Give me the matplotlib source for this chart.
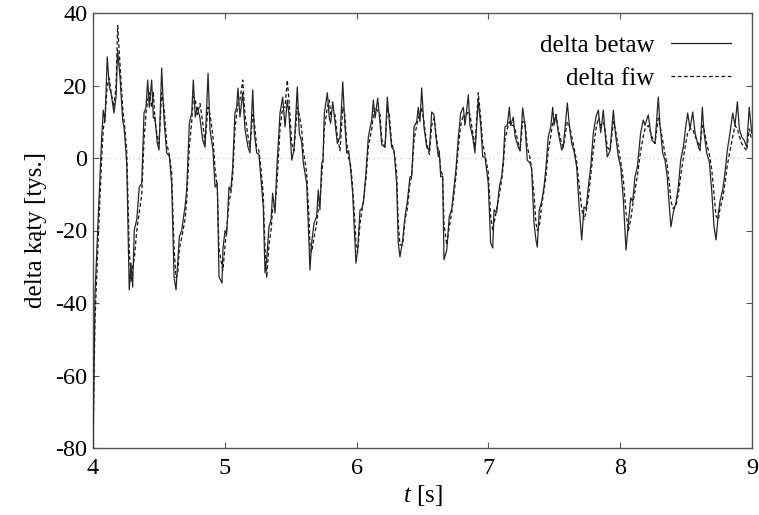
import matplotlib
matplotlib.use("Agg")
import matplotlib.pyplot as plt

plt.rcParams['font.family'] = ['Liberation Serif', 'DejaVu Serif']
plt.rcParams['mathtext.fontset'] = 'custom'
plt.rcParams['mathtext.rm'] = 'Liberation Serif'
plt.rcParams['mathtext.it'] = 'Liberation Serif:italic'
plt.rcParams['axes.unicode_minus'] = False

# time [s]
t = [
    4.000, 4.015, 4.040, 4.066, 4.078, 4.091, 4.108, 4.124, 4.137, 4.159,
    4.175, 4.187, 4.205, 4.225, 4.237, 4.256, 4.275, 4.288, 4.301, 4.313,
    4.332, 4.351, 4.370, 4.387, 4.402, 4.415, 4.427, 4.445, 4.458, 4.470,
    4.488, 4.501, 4.521, 4.539, 4.559, 4.579, 4.597, 4.615, 4.630, 4.643,
    4.655, 4.673, 4.698, 4.711, 4.731, 4.749, 4.761, 4.776, 4.791, 4.812,
    4.832, 4.850, 4.873, 4.888, 4.910, 4.926, 4.943, 4.956, 4.979, 4.986,
    5.002, 5.014, 5.032, 5.045, 5.060, 5.077, 5.090, 5.100, 5.115, 5.136,
    5.153, 5.176, 5.191, 5.212, 5.224, 5.242, 5.259, 5.275, 5.292, 5.305,
    5.318, 5.335, 5.351, 5.363, 5.381, 5.394, 5.419, 5.439, 5.457, 5.474,
    5.487, 5.508, 5.525, 5.550, 5.565, 5.583, 5.596, 5.621, 5.641, 5.646,
    5.659, 5.677, 5.697, 5.709, 5.722, 5.735, 5.745, 5.755, 5.778, 5.793,
    5.803, 5.819, 5.836, 5.854, 5.874, 5.895, 5.910, 5.925, 5.940, 5.955,
    5.970, 5.988, 5.995, 6.008, 6.026, 6.039, 6.051, 6.071, 6.089, 6.115,
    6.127, 6.140, 6.160, 6.178, 6.191, 6.216, 6.233, 6.248, 6.266, 6.284,
    6.304, 6.316, 6.329, 6.350, 6.367, 6.385, 6.405, 6.418, 6.436, 6.456,
    6.468, 6.481, 6.494, 6.511, 6.532, 6.552, 6.570, 6.587, 6.602, 6.620,
    6.627, 6.638, 6.653, 6.663, 6.684, 6.703, 6.722, 6.739, 6.754, 6.772,
    6.790, 6.810, 6.822, 6.848, 6.860, 6.881, 6.898, 6.923, 6.942, 6.957,
    6.974, 6.999, 7.017, 7.033, 7.043, 7.063, 7.083, 7.101, 7.113, 7.126,
    7.143, 7.159, 7.169, 7.189, 7.202, 7.227, 7.240, 7.260, 7.278, 7.295,
    7.316, 7.328, 7.346, 7.361, 7.371, 7.386, 7.404, 7.422, 7.437, 7.454,
    7.473, 7.488, 7.498, 7.513, 7.530, 7.556, 7.568, 7.599, 7.614, 7.632,
    7.649, 7.670, 7.690, 7.708, 7.725, 7.741, 7.758, 7.776, 7.796, 7.816,
    7.834, 7.852, 7.872, 7.885, 7.902, 7.923, 7.948, 7.963, 7.986, 8.004,
    8.024, 8.044, 8.062, 8.080, 8.095, 8.112, 8.130, 8.155, 8.175, 8.188,
    8.213, 8.239, 8.264, 8.289, 8.302, 8.322, 8.340, 8.357, 8.373, 8.385,
    8.403, 8.423, 8.441, 8.459, 8.479, 8.497, 8.512, 8.530, 8.550, 8.568,
    8.593, 8.606, 8.623, 8.636, 8.656, 8.676, 8.694, 8.712, 8.727, 8.745,
    8.757, 8.778, 8.795, 8.813, 8.833, 8.854, 8.871, 8.889, 8.904, 8.922,
    8.939, 8.960, 8.979, 8.998,
]

# delta betaw [tys.]
delta_betaw = [
    -80, -38, -16, 5.8, 13.2, 10, 27.9, 19.6, 18, 12.4,
    17, 29.8, 22.3, 10.5, 8, -1.4, -36.4, -29, -35.6, -19.9,
    -17, -8, -7, 12.4, 14, 21.5, 14, 21.5, 11, 11.3,
    4, 2.2, 24.8, 10.5, 1.4, 0.5, -7, -32.8, -36.4, -29,
    -21.8, -20, -13.5, -8.8, 9.6, 12.4, 21.5, 11.3, 14, 11,
    5, 3, 23.4, 7.7, 2.2, -8, -7, -32.8, -34.5, -25,
    -20, -21, -8, -9, -2.5, 12.4, 14, 19.3, 11.3, 18,
    8, 3, 1.4, 18.8, 6.9, 1.4, 1, -6, -13.5, -31.7,
    -28, -19, -17, -9.7, -15.2, -3.3, 12.4, 16.8, 8.6, 16,
    12, -0.6, 2.2, 19.6, 6.9, 4.5, -1.4, -7, -25.4, -30.9,
    -23.4, -18, -16.2, -8.8, -14.3, -1.4, -1, 12.4, 18, 11,
    9.6, 15.5, 10, 4, 5.8, 21, 10, 1.4, 2, -3.3,
    -9.7, -23.4, -29, -25.4, -14.3, -14, -12.4, -4.1, 5.8, 10.5,
    16, 11, 16.5, 9.6, 3.6, 3, 16.8, 10, 3, 2,
    -7, -23.4, -27.3, -22.6, -16.2, -12, -5.2, -5, 8.6, 10,
    14, 10, 19.3, 8.6, 3, 2, 12.7, 12, 5.8, 0.3,
    2, -5.2, -5, -28.1, -25.4, -16.2, -14, -8, -3, 5.8,
    12.4, 14, 9, 17.4, 9, 5.8, 1.4, 16, 9, 0.3,
    0.3, -7, -23.4, -24.8, -14.3, -15, -8, -5, -0.6, 8.6,
    9, 14, 9, 11.3, 6, 3, 2, 13.8, 9, -0.6,
    -1.4, -3, -18, -22.6, -24.6, -14.3, -12, -8, -2.5, 5.8,
    8.6, 14, 9, 11.9, 7, 2.2, 3, 15.2, 9, 4,
    2, -2.5, -14.3, -22.6, -13.5, -14, -8, -2.5, 6.9, 11.3,
    13.2, 7, 13.2, 7, 0.3, 2, 13.2, 7, 0.3, -2.5,
    -11.6, -25.4, -18, -11, -12, -5.2, -2.5, 6.9, 10.5, 9,
    11.9, 5, 4, 16.8, 9, 1.4, -0.6, -5.2, -13.5, -19,
    -15, -12.4, -8, -0.6, 3, 8.6, 12.4, 8, 12.7, 7,
    3, 2, 14, 7, 1.4, -1, -8.8, -19, -22.6, -15.2,
    -12, -8.8, -4, 2.2, 6.9, 12.4, 9, 15.5, 8, 5.8,
    5, 3, 14, 6.9,
]

# delta fiw [tys.]
delta_fiw = [
    -80, -45, -22, 0, 8, 11, 20, 22, 18, 14,
    20, 36.5, 26, 14, 10, 2, -25, -34, -30, -28,
    -20, -15, -10, 5, 12, 16, 18, 14, 18, 10,
    6, 4, 18, 14, 4, 1, -4, -25, -33, -32,
    -25, -22, -17, -12, 3, 10, 17, 16, 12, 15,
    10, 4, 14, 12, 6, -3, -8, -25, -30, -31,
    -24, -20, -12, -10, -5, 8, 12, 15, 16, 21.5,
    12, 6, 3, 12, 10, 3, 2, -3, -10, -25,
    -33, -24, -20, -14, -13, -8, 8, 14, 14, 21.5,
    16, 4, 2, 14, 12, 8, 2, -4, -18, -24,
    -26, -22, -18, -14, -12, -5, 0, 8, 14, 16,
    12, 12, 12, 6, 2, 14, 12, 4, 0, -2,
    -8, -18, -24, -26, -18, -15, -12, -6, 3, 8,
    12, 14, 13, 12, 5, 3, 14, 12, 4, 2,
    -4, -18, -24, -24, -17, -14, -7, -5, 5, 9,
    11, 12, 14, 10, 4, 1, 9, 11, 7, 2,
    1, -3, -5, -18, -24, -19, -15, -10, -5, 3,
    9, 12, 11, 13, 12, 7, 3, 18, 11, 4,
    1, -4, -16, -20, -18, -14, -10, -6, -2, 5,
    8, 10, 9, 9, 8, 4, 2, 10, 10, 3,
    0, -3, -10, -18, -20, -19, -13, -9, -5, 2,
    6, 10, 10, 12, 8, 4, 3, 10, 9, 6,
    3, -1, -8, -14, -17, -15, -11, -5, 2, 8,
    11, 9, 10, 8, 3, 2, 10, 8, 3, -1,
    -6, -15, -20, -17, -13, -9, -5, 2, 6, 8,
    9, 6, 4, 11, 9, 5, 1, -2, -7, -12,
    -14, -13, -10, -5, 0, 4, 7, 8, 8, 6,
    4, 3, 9, 8, 4, 1, -3, -10, -16, -17,
    -14, -11, -7, -2, 2, 6, 9, 8, 6, 4,
    3, 2, 8, 5,
]

x_ticks = [4, 5, 6, 7, 8, 9]
y_ticks = [-80, -60, -40, -20, 0, 20, 40]
series_labels = ['delta betaw', 'delta fiw']

fig = plt.figure(figsize=(7.59, 5.15), dpi=100)
ax = fig.add_axes([93 / 759, 1 - 448 / 515, (752 - 93) / 759, (448 - 13) / 515])

ax.axhline(0, color='#c8c8c8', lw=0.8, ls=(0, (1, 3)), zorder=1)
ax.plot(t, delta_betaw, color='#262626', lw=0.9, ls='-', label=series_labels[0], zorder=3)
ax.plot(t, delta_fiw, color='#111111', lw=0.9, ls=(0, (3, 2)), label=series_labels[1], zorder=2)

ax.set_xlim(4, 9)
ax.set_ylim(-80, 40)
ax.set_xticks(x_ticks)
ax.set_yticks(y_ticks)
ax.tick_params(direction='in', top=True, right=True, length=4, width=0.8,
               color='#555555', labelsize=17.5)
ax.tick_params(axis='x', pad=7)
ax.tick_params(axis='y', pad=4)
for s in ax.spines.values():
    s.set_color('#555555')
    s.set_linewidth(1.0)

ax.set_xlabel(r'$t$ [s]', fontsize=18, labelpad=3)
ax.set_ylabel('delta kąty [tys.]', fontsize=18, labelpad=6)

leg = ax.legend(loc='upper right', frameon=False, markerfirst=False,
                fontsize=18, handlelength=2.4, handletextpad=0.65,
                labelspacing=0.42, borderaxespad=0.45)

fig.savefig('out.png', dpi=100)
